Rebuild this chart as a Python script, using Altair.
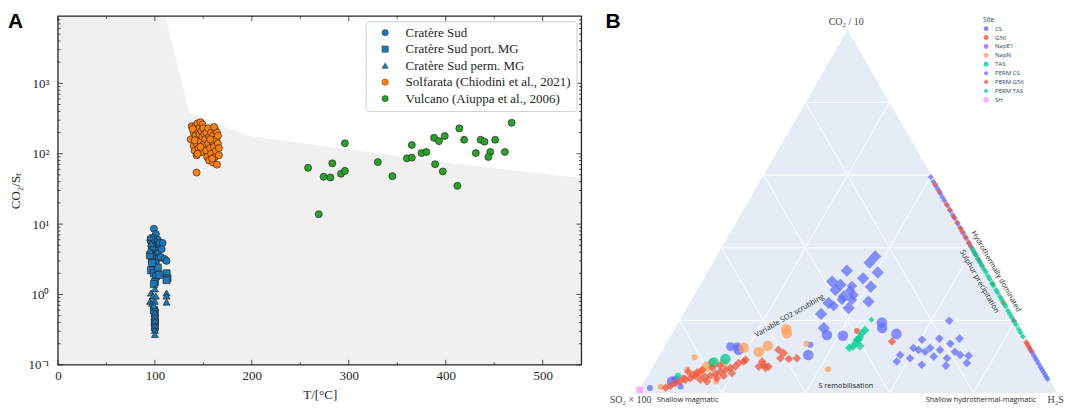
import math
import altair as alt
import pandas as pd

# ======================= Panel A : CO2/St vs T =======================
SERIES_A = ["Cratère Sud", "Cratère Sud port. MG", "Cratère Sud perm. MG",
            "Solfarata (Chiodini et al., 2021)", "Vulcano (Aiuppa et al., 2006)"]
COLORS_A = ["#1f77b4", "#1f77b4", "#1f77b4", "#ff7f0e", "#2ca02c"]
SHAPES_A = ["circle", "square", "triangle-up", "circle", "circle"]

cs_T = [99, 101, 103, 98, 100, 97, 102, 105, 108, 99, 101, 96, 103, 98, 100, 104, 106, 110, 112, 97, 101, 107]
cs_R = [8.6, 7.2, 6.0, 6.4, 5.6, 5.0, 5.0, 5.4, 5.4, 4.5, 4.2, 4.0, 3.8, 3.5, 3.2, 3.3, 3.4, 3.2, 3.0, 3.0, 2.8, 4.4]

cp_T = [96, 97, 95, 98, 96, 99, 101, 100, 99, 103, 97, 104, 112, 113, 112, 100, 100, 100, 100, 99]
cp_R = [6.0, 4.8, 3.6, 2.5, 2.2, 2.0, 1.8, 1.5, 1.4, 2.4, 2.8, 1.9, 2.0, 1.7, 1.6, 0.55, 0.45, 0.40, 0.34, 0.6]

cm_T = [95, 96, 95, 96, 98, 95, 97, 100, 101, 100, 112, 112, 112, 100, 100, 100, 100, 100, 100, 100, 99]
cm_R = [6.5, 5.3, 4.2, 1.05, 0.95, 0.80, 0.75, 0.80, 0.95, 1.2, 1.05, 0.95, 0.78, 0.65, 0.55, 0.48, 0.42, 0.36, 0.31, 0.27, 0.70]

so_T = [137, 138, 140, 140, 141, 142, 142, 143, 143, 144, 144, 145, 145, 146, 146, 147, 147, 148, 148, 149,
        149, 150, 150, 151, 144, 139, 141, 147, 152, 153, 153, 154, 155, 155, 156, 156, 157, 158, 158, 159,
        160, 160, 161, 162, 162, 163, 163, 164, 164, 165, 165, 166, 166, 161, 159, 157, 143]
so_R = [160, 245, 200, 130, 110, 180, 250, 140, 95, 270, 215, 165, 120, 235, 190, 280, 150, 105, 210, 260,
        175, 135, 230, 190, 100, 225, 155, 125, 160, 110, 200, 90, 140, 230, 175, 80, 120, 200, 100, 150,
        75, 180, 125, 220, 90, 160, 110, 70, 200, 140, 180, 95, 120, 240, 85, 160, 54]

vu_T = [258, 269, 274, 281, 283, 292, 296, 296, 330, 345, 360, 365, 365, 375, 380, 388, 393, 399, 389, 397,
        412, 414, 419, 431, 436, 440, 446, 444, 451, 461, 468]
vu_R = [63, 13.8, 47, 46, 73, 52, 57, 141, 76, 48, 86, 88, 133, 102, 106, 168, 151, 178, 71, 56,
        35, 229, 158, 102, 158, 148, 106, 90, 158, 106, 275]

# grey envelope (upper boundary)
env_T = [0, 110.8, 135.7, 196.7, 300, 400, 500, 540]
env_R = [9000, 9000, 380, 180, 115, 75, 52, 45]

x_major = [0, 100, 200, 300, 400, 500]
x_minor = [50, 150, 250, 350, 450]
y_major = [0.1, 1, 10, 100, 1000]
y_minor = [k * 10.0 ** e for e in range(-1, 4) for k in range(2, 10) if k * 10.0 ** e < 9000]

# ======================= Panel B : ternary =======================
SITES = ["CS", "G56", "NapE1", "NapN", "TAS", "PERM CS", "PERM G56", "PERM TAS", "SH"]
COLORS_B = ["#636efa", "#EF553B", "#ab63fa", "#FFA15A", "#00cc96", "#636efa", "#EF553B", "#00cc96", "#FF97FF"]
SHAPES_B = ["circle", "circle", "circle", "circle", "circle", "diamond", "diamond", "diamond", "square"]

# a = CO2/10 (%), c = H2S (%), w = marker weight
CS_a = [1.4, 3.7, 1.8, 3.2, 12.8, 12.8, 11.9, 13.3, 10.5, 16.0, 15.8, 19.4, 17.9, 16.3]
CS_c = [2.2, 7.2, 9.3, 6.6, 15.7, 17.3, 18.1, 34.5, 35.4, 37.1, 41.0, 48.5, 49.3, 53.5]
CS_w = [1, 2, 1, 3, 2, 2, 3, 1, 3, 3, 3, 3, 3, 3]

G56_a = [17.1, 5.3, 4.2]
G56_c = [43.7, 12.3, 8.8]
G56_w = [1, 1, 1]

NAPE1_a, NAPE1_c, NAPE1_w = [], [], []

NAPN_a = [9.9, 6.6, 1.7, 7.3, 8.4, 12.5, 11.3, 13.0, 17.6, 16.5, 13.6, 6.6, 3.2, 5.9, 8.3]
NAPN_c = [8.6, 8.5, 4.6, 12.9, 16.3, 19.0, 23.2, 24.5, 26.6, 27.3, 33.4, 42.1, 17.1, 12.0, 13.6]
NAPN_w = [1, 1, 1, 3, 2, 3, 3, 3, 3, 3, 1, 1, 1, 2, 2]

TAS_a = [8.4, 9.4, 4.8]
TAS_c = [13.9, 16.2, 7.2]
TAS_w = [3, 3, 1]

PCS_a = [37.6, 35.9, 33.7, 33.2, 31.6, 30.7, 29.8, 29.3, 29.5, 28.2, 28.4, 27.0, 26.6, 25.7, 25.2, 24.8, 24.0,
         23.4, 21.8, 17.9, 25.7,
         19.9, 14.7, 15.0, 15.0, 12.4, 11.9, 12.4, 11.9, 13.6, 11.4, 10.5, 9.6, 10.1, 10.5, 10.3, 8.7, 9.6,
         7.8, 7.5, 8.3, 11.4,
         59.5, 58.2, 57.0, 56.1, 55.0, 54.0, 53.0, 51.6, 50.2, 49.0, 48.1, 46.6, 45.2, 44.0, 42.6, 41.2, 40.1,
         38.2, 36.3, 12.1, 11.2, 10.3, 9.6, 8.9, 8.1, 7.2, 6.5, 5.8, 5.1, 4.5, 3.9]
PCS_c = [37.8, 37.3, 33.0, 40.6, 37.9, 31.0, 33.4, 40.9, 36.3, 36.5, 32.9, 37.9, 35.8, 35.8, 42.4, 33.1, 34.7,
         38.6, 32.8, 35.4, 38.2,
         64.3, 60.4, 64.4, 69.2, 59.5, 61.0, 63.5, 66.1, 67.7, 69.9, 57.3, 60.1, 65.5, 71.6, 73.7, 57.4, 68.9,
         63.8, 69.7, 74.3, 62.8,
         40.1, 41.4, 42.6, 43.5, 44.6, 45.6, 46.6, 48.0, 49.4, 50.6, 51.5, 53.0, 54.4, 55.6, 57.0, 58.4, 59.5,
         61.4, 63.3, 87.5, 88.4, 89.3, 90.0, 90.7, 91.5, 92.4, 93.1, 93.8, 94.5, 95.1, 95.7]
PCS_w = [4, 4, 4, 4, 4, 4, 4, 4, 3, 3, 4, 3, 4, 3, 4, 4, 3, 4, 4, 4, 3,
         2, 2, 2, 2, 2, 2, 2, 2, 2, 2, 2, 2, 2, 2, 2, 2, 2, 2, 2, 2, 2,
         1, 1, 1, 1, 1, 1, 1, 1, 1, 1, 1, 1, 1, 1, 1, 1, 1, 1, 1, 1, 1, 1, 1, 1, 1, 1, 1, 1, 1, 1, 1]

PG56_a = [2.0, 2.8, 3.2, 3.7, 4.1, 4.8, 5.7, 3.7, 4.4, 4.8, 5.3, 5.9, 6.4, 6.9, 7.3, 8.3, 8.7, 9.2, 5.0, 3.2,
          4.1, 4.8, 5.5, 8.7, 7.8, 7.3, 6.9, 11.9, 11.0, 9.6, 9.4, 9.6, 7.3, 14.2, 1.5, 5.9, 6.4, 7.0, 7.5,
          57.5, 55.5, 52.0, 50.5, 48.5, 47.0, 45.5, 44.5, 43.0, 41.5, 40.5, 39.0, 37.0, 35.0, 30.0, 25.0, 20.0,
          14.0, 13.5, 13.0, 12.5, 11.5]
PG56_c = [6.8, 7.6, 8.6, 9.5, 10.5, 11.4, 11.3, 13.1, 13.9, 14.9, 15.9, 16.7, 17.7, 18.6, 19.6, 19.9, 20.9, 21.1,
          10.7, 14.9, 16.8, 18.1, 19.7, 25.3, 26.1, 27.5, 27.0, 27.6, 29.3, 29.2, 31.3, 33.1, 25.2, 53.5, 5.9,
          9.1, 12.2, 14.3, 15.9,
          42.1, 44.1, 47.6, 49.1, 51.1, 52.6, 54.1, 55.1, 56.6, 58.1, 59.1, 60.6, 62.6, 64.6, 69.6, 74.6, 79.6,
          85.6, 86.1, 86.6, 87.1, 88.1]
PG56_w = [2] * 39 + [1] * 22

PTAS_a = [17.4, 16.5, 15.4, 14.7, 13.8, 12.8, 13.0, 14.7, 20.2, 12.5,
          39.6, 38.7, 37.9, 36.8, 35.9, 35.2, 34.1, 33.3, 32.2, 31.4, 30.3, 29.6, 28.4, 27.7, 26.5, 25.8,
          24.6, 23.9, 22.7, 21.8, 20.9, 19.7, 18.8, 17.6, 16.7, 15.6]
PTAS_c = [45.5, 45.2, 45.2, 44.9, 45.0, 44.9, 46.5, 45.3, 45.6, 44.2,
          60.0, 60.9, 61.7, 62.8, 63.7, 64.4, 65.5, 66.3, 67.4, 68.2, 69.3, 70.0, 71.2, 71.9, 73.1, 73.8,
          75.0, 75.7, 76.9, 77.8, 78.7, 79.9, 80.8, 82.0, 82.9, 84.0]
PTAS_w = [2, 2, 2, 2, 2, 2, 2, 2, 1, 2] + [1] * 26

SH_a = [0.9]
SH_c = [0.0]
SH_w = [1.3]

GRID_VALUES = [20, 40, 60, 80]

# ----------------------------------------------------------------------
SERIF = "Liberation Serif"
SANS = "Open Sans"
INK = "#262626"
W_A, H_A = 524, 349
W_B, H_B = 464, 389

df_a = pd.DataFrame(
    [{"series": n, "T": t, "R": r}
     for n, T, R in zip(SERIES_A, [cs_T, cp_T, cm_T, so_T, vu_T], [cs_R, cp_R, cm_R, so_R, vu_R])
     for t, r in zip(T, R)])
df_env = pd.DataFrame({"T": env_T, "R": env_R, "lo": [0.1] * len(env_T)})

xs = alt.Scale(domain=[0, 540], nice=False, zero=False)
ys = alt.Scale(type="log", domain=[0.1, 9000], nice=False)

ylab = ("datum.value < 0.5 ? '10⁻¹' : datum.value < 5 ? '10⁰' : datum.value < 50 ? '10¹' : "
        "datum.value < 500 ? '10²' : '10³'")

AX_X = alt.Axis(values=x_major, title="T/[°C]", ticks=False, tickSize=0, domain=False, grid=False,
                labelFont=SERIF, labelFontSize=13, labelColor=INK, labelPadding=5, labelFlush=False,
                titleFont=SERIF, titleFontSize=13, titleFontWeight="normal", titleColor=INK, titlePadding=6)
AX_Y = alt.Axis(values=y_major, labelExpr=ylab, title="CO₂/Sₜ", ticks=False, tickSize=0, domain=False,
                grid=False, labelFont=SERIF, labelFontSize=13, labelColor=INK, labelPadding=9,
                labelFlush=False, titleFont=SERIF, titleFontSize=13, titleFontWeight="normal",
                titleColor=INK, titlePadding=6)

env = alt.Chart(df_env).mark_area(color="#f0f0f0").encode(
    x=alt.X("T:Q", scale=xs, axis=AX_X),
    y=alt.Y("R:Q", scale=ys, axis=AX_Y),
    y2="lo:Q",
)


def x_ticks(vals, length, top):
    d = pd.DataFrame({"T": vals})
    y0 = 0 if top else H_A
    y1 = length if top else H_A - length
    return alt.Chart(d).mark_rule(color=INK, strokeWidth=0.8).encode(
        x=alt.X("T:Q", scale=xs, axis=AX_X), y=alt.value(y0), y2=alt.value(y1))


def y_ticks(vals, length, right):
    d = pd.DataFrame({"R": vals})
    x0 = W_A if right else 0
    x1 = W_A - length if right else length
    return alt.Chart(d).mark_rule(color=INK, strokeWidth=0.8).encode(
        y=alt.Y("R:Q", scale=ys, axis=AX_Y), x=alt.value(x0), x2=alt.value(x1))


ticks = [x_ticks(x_major, 5, False), x_ticks(x_major, 5, True),
         x_ticks(x_minor, 2.5, False), x_ticks(x_minor, 2.5, True),
         y_ticks(y_major, 5, False), y_ticks(y_major, 5, True),
         y_ticks(y_minor, 2.5, False), y_ticks(y_minor, 2.5, True)]

frame = alt.Chart(pd.DataFrame({"k": [0]})).mark_rect(
    fillOpacity=0, stroke=INK, strokeWidth=1.3).encode(
    x=alt.value(0), x2=alt.value(W_A), y=alt.value(0), y2=alt.value(H_A))

LEG_A = alt.Legend(title=None, orient="top-right", offset=5, labelFont=SERIF, labelFontSize=13,
                   labelColor=INK, symbolSize=40, symbolStrokeWidth=0.4, padding=5, rowPadding=2.5,
                   fillColor="white", strokeColor="#cccccc", cornerRadius=3, labelLimit=400,
                   symbolOffset=8, labelOffset=14)

pts_a = alt.Chart(df_a).mark_point(filled=True, size=50, stroke="#1a1a1a", strokeWidth=0.6, opacity=1).encode(
    x=alt.X("T:Q", scale=xs, axis=AX_X),
    y=alt.Y("R:Q", scale=ys, axis=AX_Y),
    color=alt.Color("series:N", scale=alt.Scale(domain=SERIES_A, range=COLORS_A), legend=LEG_A),
    shape=alt.Shape("series:N", scale=alt.Scale(domain=SERIES_A, range=SHAPES_A), legend=LEG_A),
)

lab_a = alt.Chart(pd.DataFrame({"k": [0]})).mark_text(
    text="A", font="Liberation Sans", fontSize=21, fontWeight="bold", align="left", baseline="top",
    color="black").encode(x=alt.value(-50), y=alt.value(-5))

panel_a = alt.layer(env, *ticks, frame, pts_a, lab_a).properties(width=W_A, height=H_A)

# ----------------------------------------------------------------------
SQ3 = math.sqrt(3) / 2


def tern(a, c):
    return c / 100 + a / 200, a / 100 * SQ3


rows = []
for site, A, C, Wt in zip(SITES,
                          [CS_a, G56_a, NAPE1_a, NAPN_a, TAS_a, PCS_a, PG56_a, PTAS_a, SH_a],
                          [CS_c, G56_c, NAPE1_c, NAPN_c, TAS_c, PCS_c, PG56_c, PTAS_c, SH_c],
                          [CS_w, G56_w, NAPE1_w, NAPN_w, TAS_w, PCS_w, PG56_w, PTAS_w, SH_w]):
    for a, c, w in zip(A, C, Wt):
        X, Y = tern(a, c)
        rows.append({"site": site, "X": X, "Y": Y, "w": w})
df_b = pd.DataFrame(rows)

corners = [tern(0, 0), tern(100, 0), tern(0, 100)]
df_tri = pd.DataFrame({"X": [p[0] for p in corners], "Y": [p[1] for p in corners], "Y0": [0, 0, 0]})

seg = []
for v in GRID_VALUES:
    for (a1, c1), (a2, c2) in [((v, 0), (v, 100 - v)), ((0, v), (100 - v, v)), ((0, 100 - v), (100 - v, 0))]:
        x1, y1 = tern(a1, c1)
        x2, y2 = tern(a2, c2)
        seg.append({"x1": x1, "y1": y1, "x2": x2, "y2": y2})
df_grid = pd.DataFrame(seg)

PX = 420.0
xb = alt.Scale(domain=[-37.3 / PX, -37.3 / PX + W_B / PX], nice=False, zero=False)
yb = alt.Scale(domain=[(377.3 - H_B) / PX, 377.3 / PX], nice=False, zero=False)

tri = alt.Chart(df_tri).mark_area(color="#E5ECF6").encode(
    x=alt.X("X:Q", scale=xb, axis=None), y=alt.Y("Y:Q", scale=yb, axis=None), y2="Y0:Q")

grid = alt.Chart(df_grid).mark_rule(color="white", strokeWidth=1).encode(
    x=alt.X("x1:Q", scale=xb, axis=None), y=alt.Y("y1:Q", scale=yb, axis=None), x2="x2:Q", y2="y2:Q")

LEG_B = alt.Legend(title="Site", orient="none", legendX=383, legendY=1, titleFont=SANS, titleFontSize=6.5,
                   titleFontWeight="normal", titleColor="#2a3f5f", labelFont=SANS, labelFontSize=6,
                   labelColor="#2a3f5f", symbolSize=24, symbolOpacity=0.8, symbolStrokeWidth=0,
                   rowPadding=2.9, labelOffset=6, titlePadding=2, padding=0)

pts_b = alt.Chart(df_b).mark_point(filled=True, opacity=0.75, strokeWidth=0).encode(
    x=alt.X("X:Q", scale=xb, axis=None),
    y=alt.Y("Y:Q", scale=yb, axis=None),
    color=alt.Color("site:N", scale=alt.Scale(domain=SITES, range=COLORS_B), legend=LEG_B),
    shape=alt.Shape("site:N", scale=alt.Scale(domain=SITES, range=SHAPES_B), legend=LEG_B),
    size=alt.Size("w:Q", scale=alt.Scale(domain=[1, 4], range=[36, 150]), legend=None),
)

corner_lab = pd.DataFrame({"label": ["CO₂ / 10", "SO₂ × 100"], "X": [0.497, -0.017], "Y": [0.884, -0.016]})
t_corner = alt.Chart(corner_lab).mark_text(font=SERIF, fontSize=10, color="#444444", baseline="middle").encode(
    x=alt.X("X:Q", scale=xb, axis=None), y=alt.Y("Y:Q", scale=yb, axis=None), text="label:N")
t_h2s = alt.Chart(pd.DataFrame({"label": ["H₂S"], "X": [1.0155], "Y": [-0.016]})).mark_text(
    font=SERIF, fontSize=10, color="#444444", baseline="middle", align="right").encode(
    x=alt.X("X:Q", scale=xb, axis=None), y=alt.Y("Y:Q", scale=yb, axis=None), text="label:N")

flat_lab = pd.DataFrame({"label": ["Shallow magmatic", "Shallow hydrothermal-magmatic", "S remobilisation"],
                         "X": [0.119, 0.818, 0.496], "Y": [-0.016, -0.016, 0.017]})
t_flat = alt.Chart(flat_lab).mark_text(font=SANS, fontSize=7.3, color="#1e1e1e", baseline="middle").encode(
    x=alt.X("X:Q", scale=xb, axis=None), y=alt.Y("Y:Q", scale=yb, axis=None), text="label:N")

t_scrub = alt.Chart(pd.DataFrame({"label": ["Variable SO2 scrubbing"], "X": [0.362], "Y": [0.184]})).mark_text(
    font=SANS, fontSize=7.3, color="#1e1e1e", baseline="middle", angle=330).encode(
    x=alt.X("X:Q", scale=xb, axis=None), y=alt.Y("Y:Q", scale=yb, axis=None), text="label:N")

rot_lab = pd.DataFrame({"label": ["Hydrothermally dominated", "Sulphur precipitation"],
                        "X": [0.854, 0.814], "Y": [0.290, 0.266]})
t_rot = alt.Chart(rot_lab).mark_text(font=SANS, fontSize=7.3, color="#1e1e1e", baseline="middle", angle=60).encode(
    x=alt.X("X:Q", scale=xb, axis=None), y=alt.Y("Y:Q", scale=yb, axis=None), text="label:N")

lab_b = alt.Chart(pd.DataFrame({"k": [0]})).mark_text(
    text="B", font="Liberation Sans", fontSize=21, fontWeight="bold", align="left", baseline="top",
    color="black").encode(x=alt.value(5), y=alt.value(-5))

panel_b = alt.layer(tri, grid, pts_b, t_corner, t_h2s, t_flat, t_scrub, t_rot, lab_b).properties(
    width=W_B, height=H_B)

chart = alt.hconcat(panel_a, panel_b, spacing=18).resolve_scale(
    color="independent", shape="independent", size="independent"
).properties(padding={"top": 3, "left": 0, "right": 0, "bottom": 0},
             background="white").configure_view(stroke=None)

chart.save("out.html", embed_options={"renderer": "svg", "actions": False})
